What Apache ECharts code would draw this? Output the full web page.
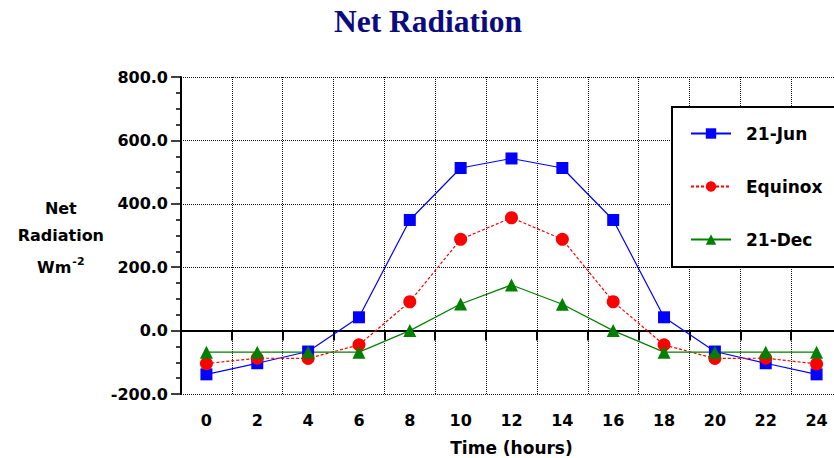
<!DOCTYPE html>
<html>
<head>
<meta charset="utf-8">
<style>
  html, body { margin: 0; padding: 0; background: #fff; }
  #chart { width: 834px; height: 458px; }
</style>
<script src="https://cdn.jsdelivr.net/npm/echarts@6/dist/echarts.min.js"></script>
</head>
<body>
<div id="chart"></div>
<script>
// ---- data ----
const hours = ['0', '2', '4', '6', '8', '10', '12', '14', '16', '18', '20', '22', '24'];
const jun21 = [-138, -103, -66, 42, 349, 513, 543, 513, 349, 42, -66, -103, -138];
const equinox = [-104, -87, -88, -45, 91, 288, 356, 288, 91, -45, -88, -87, -105];
const dec21 = [-68, -68, -68, -68, 0, 84, 144, 83, 0, -68, -68, -68, -68];
const seriesNames = ['21-Jun', 'Equinox', '21-Dec'];
const yTicks = { min: -200, max: 800, interval: 200 };

const FONT = 'DejaVu Sans';
const chart = echarts.init(document.getElementById('chart'), null, { renderer: 'svg' });

chart.setOption({
  animation: false,
  backgroundColor: '#fff',
  title: {
    text: 'Net Radiation',
    left: 329,
    top: 0,
    padding: 5,
    textStyle: { fontFamily: 'Liberation Serif', fontWeight: 'bold', fontSize: 31.5, color: '#0b0b80' }
  },
  grid: { left: 181, top: 77, width: 661, bottom: 64, containLabel: false, outerBoundsMode: 'none' },
  // legend frame (runs past the right edge of the picture, as in the original)
  graphic: [
    {
      type: 'rect',
      z: 3,
      silent: true,
      shape: { x: 672, y: 107, width: 200, height: 160 },
      style: { fill: '#fff', stroke: '#000', lineWidth: 2 }
    }
  ],
  legend: {
    orient: 'vertical',
    left: 671,
    top: 107,
    z: 5,
    data: seriesNames,
    backgroundColor: 'transparent',
    borderWidth: 0,
    padding: [18, 10, 19, 19],
    itemWidth: 40,
    itemHeight: 13,
    itemGap: 36,
    textStyle: { fontFamily: FONT, fontWeight: 'bold', fontSize: 17, color: '#000', padding: [0, 0, 0, 10], lineHeight: 14 }
  },
  xAxis: [
    {
      type: 'category',
      data: hours,
      position: 'bottom',
      boundaryGap: true,
      axisLine: { show: false, onZero: false },
      axisTick: { show: false },
      axisLabel: { fontFamily: FONT, fontWeight: 'bold', fontSize: 16, color: '#000', margin: 18 },
      splitLine: { show: true, lineStyle: { color: '#111', width: 1, type: [1, 1] } },
      name: 'Time (hours)',
      nameLocation: 'middle',
      nameGap: 45,
      nameTextStyle: { fontFamily: FONT, fontWeight: 'bold', fontSize: 17, color: '#000' }
    },
    {
      type: 'category',
      data: hours,
      position: 'bottom',
      boundaryGap: true,
      axisLine: { show: true, onZero: true, lineStyle: { color: '#000', width: 2 } },
      axisTick: { show: true, inside: false, length: 10, lineStyle: { color: '#000', width: 2 } },
      axisLabel: { show: false },
      splitLine: { show: false }
    }
  ],
  yAxis: {
    type: 'value',
    min: yTicks.min,
    max: yTicks.max,
    interval: yTicks.interval,
    axisLine: { show: true, onZero: false, lineStyle: { color: '#000', width: 2 } },
    axisTick: { show: true, inside: false, length: 10, lineStyle: { color: '#000', width: 1.5 } },
    minorTick: { show: true, splitNumber: 4, length: 5, lineStyle: { color: '#000', width: 1.5 } },
    axisLabel: {
      fontFamily: FONT, fontWeight: 'bold', fontSize: 16, color: '#000', margin: 13,
      formatter: v => v.toFixed(1)
    },
    splitLine: { show: true, lineStyle: { color: '#111', width: 1, type: [1, 1] } },
    name: '{a|Net}\n{a|Radiation}\n{b|Wm}{s|-2}',
    nameLocation: 'middle',
    nameRotate: 0,
    nameGap: 77,
    nameTextStyle: {
      padding: [10, 0, 0, 0],
      rich: {
        a: { fontFamily: FONT, fontWeight: 'bold', fontSize: 16, color: '#000', lineHeight: 27, align: 'center' },
        b: { fontFamily: FONT, fontWeight: 'bold', fontSize: 16, color: '#000', lineHeight: 37, align: 'center' },
        s: { fontFamily: FONT, fontWeight: 'bold', fontSize: 11, color: '#000', lineHeight: 37, align: 'center', padding: [0, 0, 12, 1] }
      }
    }
  },
  series: [
    {
      name: seriesNames[0],
      type: 'line',
      data: jun21,
      color: '#0000ff',
      symbol: 'rect',
      symbolSize: 12,
      lineStyle: { color: '#0000ff', width: 1.2, type: 'solid' },
      itemStyle: { color: '#0000ff' }
    },
    {
      name: seriesNames[1],
      type: 'line',
      data: equinox,
      color: '#ff0000',
      symbol: 'circle',
      symbolSize: 13,
      lineStyle: { color: '#ff0000', width: 1.2, type: [3, 2] },
      itemStyle: { color: '#ff0000' }
    },
    {
      name: seriesNames[2],
      type: 'line',
      data: dec21,
      color: '#008000',
      symbol: 'triangle',
      symbolSize: 13,
      lineStyle: { color: '#008000', width: 1.2, type: 'solid' },
      itemStyle: { color: '#008000' }
    }
  ]
});
</script>
</body>
</html>
